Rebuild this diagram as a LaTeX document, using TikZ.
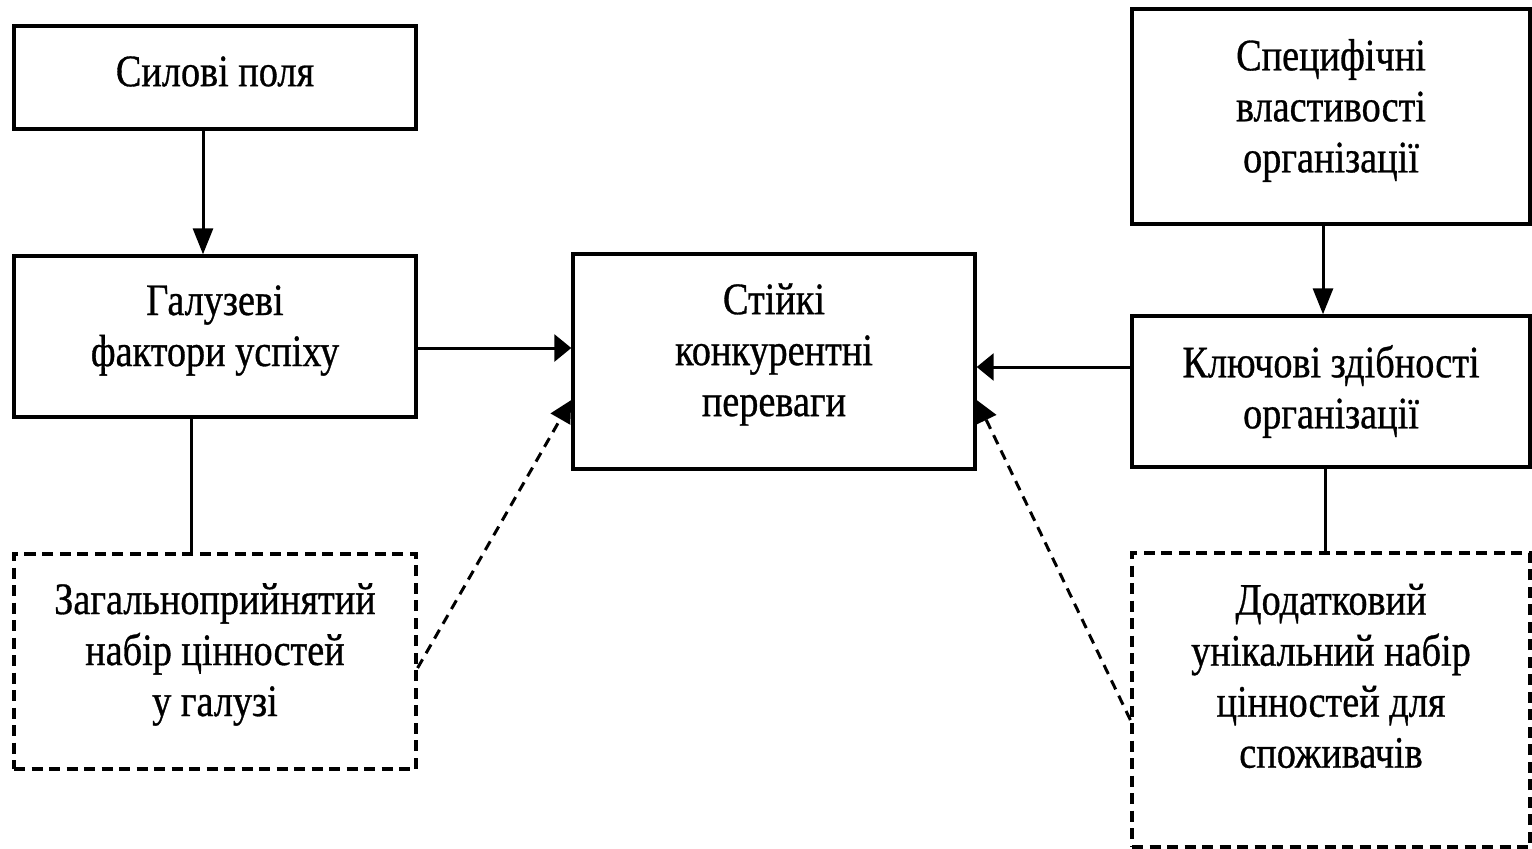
\documentclass[tikz,border=0pt]{standalone}
\usepackage{fontspec}
\setmainfont{Liberation Serif}[FakeStretch=0.85,FakeBold=0.7]
\usetikzlibrary{arrows.meta}
\begin{document}
\begin{tikzpicture}[x=1pt,y=-1pt,line width=3pt,
  box/.style={draw,line width=3.4pt,rectangle,inner sep=0pt},
  dbox/.style={box,line width=3.2pt,dash pattern=on 11pt off 6.5pt},
  txt/.style={align=center,inner sep=0pt,font=\fontsize{45}{51}\selectfont},
  hv/.style={-{Triangle[length=26pt,width=20pt]}},
  hh/.style={-{Triangle[length=17pt,width=27pt]}},
  hd/.style={-{Triangle[length=22pt,width=22pt]},dash pattern=on 10pt off 7pt}]
\useasboundingbox (0,0) rectangle (1532,849);
\node[box,minimum width=402pt,minimum height=103pt] (A) at (215,77.5) {};
\node[box,minimum width=402pt,minimum height=161pt] (B) at (215,336.5) {};
\node[dbox,minimum width=402pt,minimum height=215pt] (C) at (215,661.5) {};
\node[box,minimum width=402pt,minimum height=215pt] (D) at (774,361.5) {};
\node[box,minimum width=398pt,minimum height=215pt] (E) at (1331,116.5) {};
\node[box,minimum width=398pt,minimum height=151pt] (F) at (1331,391.5) {};
\node[dbox,minimum width=398pt,minimum height=294pt] (G) at (1331,700) {};
\node[txt] (At) at ([yshift=6pt]A.center) {Силові поля};
\node[txt] (Bt) at ([yshift=6pt]B.center) {Галузеві\\фактори успіху};
\node[txt] (Ct) at ([yshift=7pt]C.center) {Загальноприйнятий\\набір цінностей\\у галузі};
\node[txt] (Dt) at ([yshift=7pt]D.center) {Стійкі\\конкурентні\\переваги};
\node[txt] (Et) at ([yshift=6pt]E.center) {Специфічні\\властивості\\організації};
\node[txt] (Ft) at ([yshift=0pt]F.center) {Ключові здібності\\організації};
\node[txt] (Gt) at ([yshift=24pt]G.center) {Додатковий\\унікальний набір\\цінностей для\\споживачів};
\draw[hv] ([xshift=-12pt]A.south) -- ([xshift=-12pt]B.north);
\draw[hh] ([yshift=-11.5pt]B.east) -- ([yshift=-11.5pt]B.east -| D.west);
\draw ([xshift=-24pt]B.south) -- ([xshift=-24pt]C.north);
\draw[hv] ([xshift=-8pt]E.south) -- ([xshift=-8pt]F.north);
\draw[hh] ([yshift=24.5pt]F.west) -- ([yshift=24.5pt]F.west -| D.east);
\draw ([xshift=-6pt]F.south) -- ([xshift=-6pt]G.north);
\draw[hd] ([yshift=-6.5pt]C.east) -- ([yshift=-38.5pt]D.west);
\draw[hd] ([yshift=-20pt]G.west) -- ([yshift=-38.5pt]D.east);
\end{tikzpicture}
\end{document}
